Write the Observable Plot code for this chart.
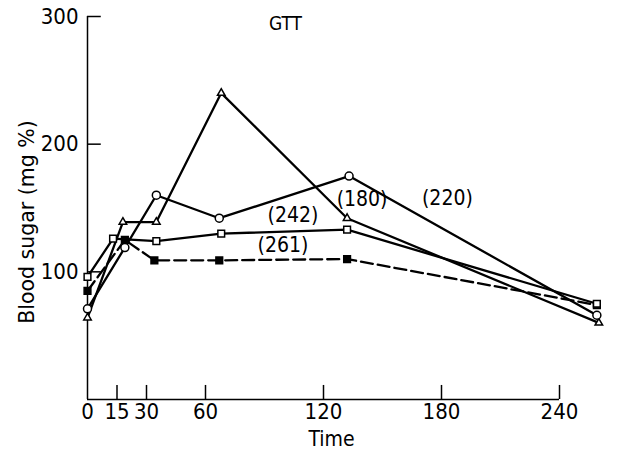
<!DOCTYPE html>
<html><head><meta charset="utf-8">
<script src="https://cdn.jsdelivr.net/npm/d3@7"></script>
<script src="https://cdn.jsdelivr.net/npm/@observablehq/plot@0.6"></script>
<style>body{margin:0;background:#fff}</style>
</head><body><div id="chart"></div>
<script>
// Tick labels
const xTicks = [0, 15, 30, 60, 120, 180, 240];
const yTicks = [100, 200, 300];
const circleX   = [0, 19, 35, 67, 133, 259];
const circleY   = [71, 119, 160, 142, 175, 66];
const triangleX = [0, 18, 35, 68, 132, 260];
const triangleY = [64, 139, 139, 240, 142, 60];
const squareX   = [0, 13, 35, 68, 132, 259];
const squareY   = [96, 126, 124, 130, 133, 75];
const filledX   = [0, 19, 34, 67, 132, 259];
const filledY   = [85, 125, 109, 109, 110, 74];
// Curve annotations
const annText = ["(242)", "(180)", "(220)", "(261)"];
const annX = [104.5, 139.6, 183, 99.4];
const annY = [144, 156.6, 158, 121];
const title = "GTT";
const xLabel = "Time";
const yLabel = "Blood sugar (mg %)";

const rows = (name, xs, ys) => xs.map((x, i) => ({series: name, x, y: ys[i]}));
const circle = rows("circle", circleX, circleY);
const triangle = rows("triangle", triangleX, triangleY);
const square = rows("square", squareX, squareY);
const filled = rows("filled", filledX, filledY);
const ann = annText.map((t, i) => ({t, x: annX[i], y: annY[i]}));

const lineOpts = {x: "x", y: "y", stroke: "black", strokeWidth: 2.3, strokeLinejoin: "round"};
const chart = Plot.plot({
  width: 622, height: 458,
  marginLeft: 87, marginRight: 63, marginTop: 16, marginBottom: 59,
  style: {fontFamily: "'DejaVu Sans Condensed', 'DejaVu Sans', sans-serif", fontSize: "22px", color: "black", background: "white"},
  x: {domain: [0, 240], axis: null},
  y: {domain: [0, 300], axis: null},
  marks: [
    Plot.ruleX([0], {y1: 0, y2: 300, strokeWidth: 1.5}),
    Plot.ruleY([0], {strokeWidth: 1.5}),
    Plot.ruleY(yTicks, {x1: 0, x2: 7, strokeWidth: 1.5}),
    Plot.ruleX(xTicks.filter(t => t > 0), {y1: 0, y2: 11, strokeWidth: 1.5}),
    Plot.axisX(xTicks, {tickSize: 0, tickPadding: 4, label: null, fontSize: 22}),
    Plot.axisY(yTicks, {tickSize: 0, tickPadding: 9, label: null, fontSize: 22}),
    Plot.line(filled, {...lineOpts, strokeDasharray: "12,5"}),
    Plot.line(square, lineOpts),
    Plot.line(triangle, lineOpts),
    Plot.line(circle, lineOpts),
    Plot.dot(filled, {x: "x", y: "y", symbol: "square", r: 3.8, fill: "black", stroke: "black"}),
    Plot.dot(square, {x: "x", y: "y", symbol: "square", r: 3.8, fill: "white", stroke: "black", strokeWidth: 1.5}),
    Plot.dot(triangle, {x: "x", y: "y", symbol: "triangle", r: 2.8, fill: "white", stroke: "black", strokeWidth: 1.5}),
    Plot.dot(circle, {x: "x", y: "y", symbol: "circle", r: 4, fill: "white", stroke: "black", strokeWidth: 1.5}),
    Plot.text(ann, {x: "x", y: "y", text: "t", fill: "black", fontSize: 21}),
    Plot.text([title], {frameAnchor: "top", dx: -38, dy: 0, fontSize: 19, fill: "black"}),
    Plot.text([xLabel], {frameAnchor: "bottom", dx: 8, dy: 46, fontSize: 21, fill: "black"}),
    Plot.text([yLabel], {frameAnchor: "left", rotate: -90, textAnchor: "middle", dx: -60, dy: 14, fontSize: 20.5, fontFamily: "'DejaVu Sans', sans-serif", fill: "black"})
  ]
});
document.getElementById("chart").append(chart);
</script>
</body></html>
